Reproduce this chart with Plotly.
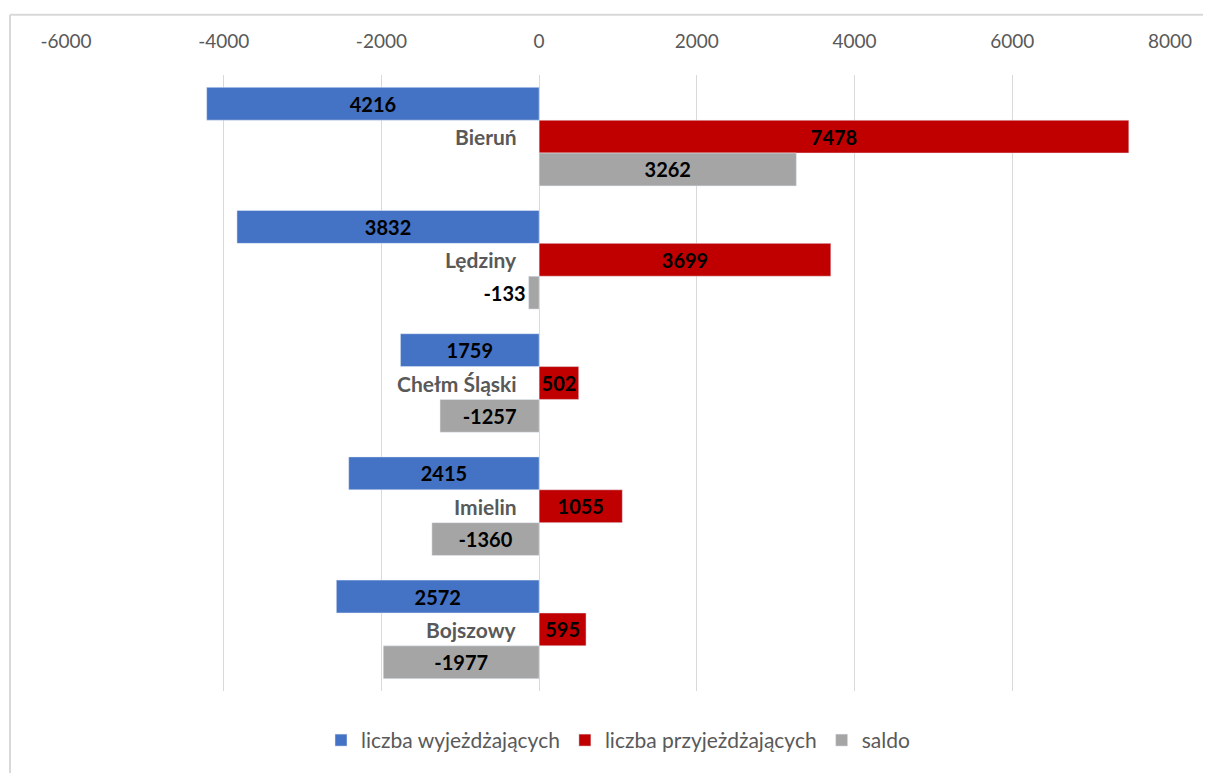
import plotly.graph_objects as go

categories = ["Bieruń", "Lędziny", "Chełm Śląski", "Imielin", "Bojszowy"]
wyjezdzajacy = [4216, 3832, 1759, 2415, 2572]
przyjezdzajacy = [7478, 3699, 502, 1055, 595]
saldo = [3262, -133, -1257, -1360, -1977]
x_ticks = [-6000, -4000, -2000, 0, 2000, 4000, 6000, 8000]

FONT = "Lato"
OFF = 8  # page body margin
W, H = 1211 - 2 * OFF, 781 - 2 * OFF
L, R, T, B = 66 - OFF, 1170 - OFF, 75 - OFF, 698 - OFF
pw, ph = R - L, B - T

def px_x(v):
    return (v - OFF - L) / pw

def px_y(v):
    return (B - (v - OFF)) / ph

label_font = dict(family=FONT, size=20, color="black")

fig = go.Figure()
fig.add_trace(go.Bar(
    y=categories, x=[-v for v in wyjezdzajacy], orientation="h",
    name="liczba wyjeżdżających", marker=dict(color="#4472C4"),
    text=[f"<b>{v}</b>" for v in wyjezdzajacy], textposition="inside",
    insidetextanchor="middle", constraintext="none", textfont=label_font,
    cliponaxis=False,
))
fig.add_trace(go.Bar(
    y=categories, x=przyjezdzajacy, orientation="h",
    name="liczba przyjeżdżających", marker=dict(color="#C00000"),
    text=[f"<b>{v}</b>" for v in przyjezdzajacy], textposition="inside",
    insidetextanchor="middle", constraintext="none", textfont=label_font,
    cliponaxis=False,
))
fig.add_trace(go.Bar(
    y=categories, x=saldo, orientation="h",
    name="saldo", marker=dict(color="#A5A5A5"),
    text=[f"<b>{v}</b>" for v in saldo],
    textposition=["outside" if abs(v) < 300 else "inside" for v in saldo],
    insidetextanchor="middle", constraintext="none", textfont=label_font,
    cliponaxis=False,
))

for c in categories:
    fig.add_annotation(x=0, y=c, xref="x", yref="y", text=f"<b>{c}</b>",
                       showarrow=False, xanchor="right", xshift=-20,
                       font=dict(family=FONT, size=21, color="#595959"))

border = dict(color="#D9D9D9", width=2)
fig.add_shape(type="line", xref="paper", yref="paper",
              x0=px_x(10), x1=px_x(1260), y0=px_y(14), y1=px_y(14),
              line=border, layer="below")
fig.add_shape(type="line", xref="paper", yref="paper",
              x0=px_x(10), x1=px_x(10), y0=px_y(14), y1=px_y(830),
              line=border, layer="below")

fig.update_layout(
    width=W, height=H,
    margin=dict(l=L, r=W - R, t=T, b=H - B),
    paper_bgcolor="white", plot_bgcolor="white",
    barmode="group", bargap=0.2, bargroupgap=0,
    font=dict(family=FONT, color="#595959"),
    showlegend=True,
    legend=dict(orientation="h", x=0.5, xanchor="center", y=px_y(748),
                yanchor="middle", font=dict(family=FONT, size=21, color="#595959"),
                itemwidth=30, traceorder="normal"),
    xaxis=dict(side="top", range=[-6000, 8000], tickvals=x_ticks,
               ticktext=[str(v) for v in x_ticks],
               showgrid=True, gridcolor="#D9D9D9", gridwidth=1,
               zeroline=True, zerolinecolor="#D9D9D9", zerolinewidth=1,
               ticks="outside", ticklen=18, tickcolor="rgba(0,0,0,0)",
               tickfont=dict(family=FONT, size=19, color="#595959"),
               showline=False, fixedrange=True),
    yaxis=dict(autorange="reversed", showticklabels=False, showgrid=False,
               zeroline=False, showline=False, ticks=""),
)

fig.write_html("out.html")
